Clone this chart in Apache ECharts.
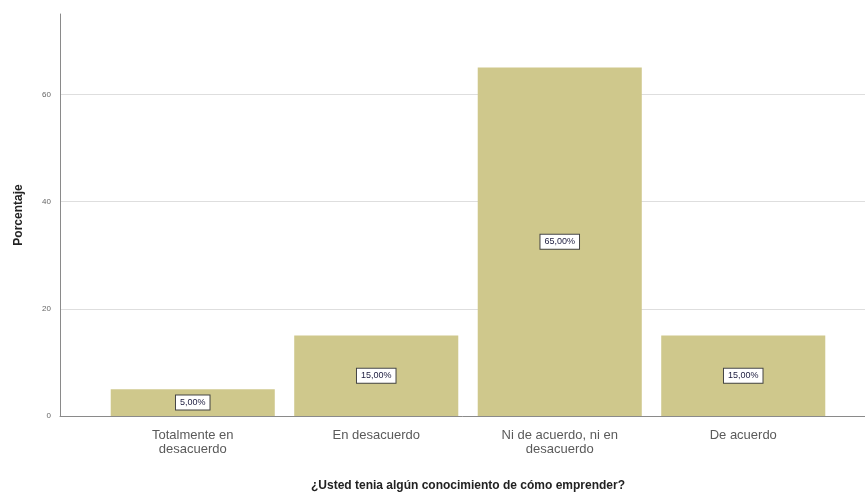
<!DOCTYPE html>
<html>
<head>
<meta charset="utf-8">
<script src="https://cdn.jsdelivr.net/npm/echarts@6/dist/echarts.min.js"></script>
<style>html,body{margin:0;padding:0;background:#fff}#c{width:865px;height:495px}</style>
</head>
<body>
<div id="c"></div>
<script>
const categories = ["Totalmente en\ndesacuerdo", "En desacuerdo", "Ni de acuerdo, ni en\ndesacuerdo", "De acuerdo"];
const percentages = [5, 15, 65, 15];
const yTicks = [0, 20, 40, 60];
const xTitle = "¿Usted tenia algún conocimiento de cómo emprender?";
const yTitle = "Porcentaje";

const chart = echarts.init(document.getElementById('c'), null, {renderer: 'canvas'});
const fam = 'Arial, "Liberation Sans", sans-serif';
chart.setOption({
  animation: false,
  backgroundColor: '#fff',
  grid: [
    {left: 60, right: 0, top: 14, bottom: 79, containLabel: false, outerBoundsMode: 'none'},
    {left: 101, right: 30, top: 14, bottom: 79, containLabel: false, outerBoundsMode: 'none'}
  ],
  xAxis: [
    {gridIndex: 0, type: 'value', min: 0, max: 1, show: true,
     axisLine: {show: true, onZero: false, lineStyle: {color: '#8a8a8a', width: 1}},
     axisTick: {show: false}, axisLabel: {show: false}, splitLine: {show: false}},
    {gridIndex: 1, type: 'category', data: categories,
     axisLine: {show: false}, axisTick: {show: false},
     axisLabel: {interval: 0, color: '#5a5a5a', fontFamily: fam, fontSize: 13, lineHeight: 14, margin: 12},
     name: xTitle, nameLocation: 'middle', nameGap: 64,
     nameTextStyle: {fontFamily: fam, fontWeight: 'bold', fontSize: 12, color: '#222'}}
  ],
  yAxis: [
    {gridIndex: 0, type: 'value', min: 0, max: 75, interval: 20,
     axisLine: {show: true, lineStyle: {color: '#8a8a8a', width: 1}},
     axisTick: {show: false},
     axisLabel: {color: '#666', fontSize: 8, fontFamily: fam, margin: 9,
       showMaxLabel: false,
       formatter: v => yTicks.includes(v) ? String(v) : ''},
     splitLine: {show: true, showMaxLine: false, lineStyle: {color: '#dedede', width: 1.2}},
     name: yTitle, nameLocation: 'middle', nameGap: 35,
     nameTextStyle: {fontFamily: fam, fontWeight: 'bold', fontSize: 12, color: '#222'}},
    {gridIndex: 1, type: 'value', min: 0, max: 75, show: false}
  ],
  series: [{
    type: 'bar', xAxisIndex: 1, yAxisIndex: 1,
    data: percentages,
    barCategoryGap: '10.6%',
    itemStyle: {color: '#cfc88c'},
    label: {
      show: true, position: 'inside',
      formatter: p => p.value.toFixed(2).replace('.', ',') + '%',
      fontFamily: fam, fontSize: 9, color: '#222244',
      backgroundColor: '#fff', borderColor: '#444', borderWidth: 1,
      padding: [3, 4, 2, 4]
    }
  }]
});
</script>
</body>
</html>
